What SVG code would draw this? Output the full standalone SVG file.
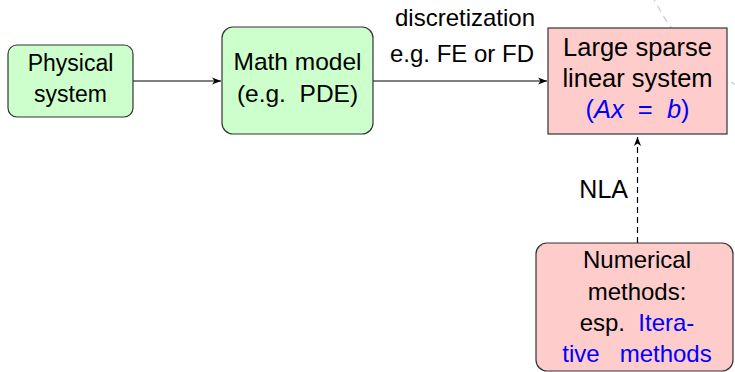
<svg xmlns="http://www.w3.org/2000/svg" width="735" height="372" viewBox="0 0 735 372">
<defs>
<style>
text{font-family:"Liberation Sans",Arial,sans-serif;font-size:24px;fill:#000}
.c{text-anchor:middle}
.b{fill:#0000ff}
.i{font-style:italic}
.green{fill:#ccffcc;stroke:#333;stroke-width:1.2}
.pink{fill:#ffcccc;stroke:#333;stroke-width:1.2}
.conn{stroke:#000;stroke-width:1.2;fill:none}
</style>
<marker id="arr" markerUnits="userSpaceOnUse" viewBox="-10 -5 11 10" refX="0" refY="0" markerWidth="11" markerHeight="10" orient="auto">
<path d="M0,0 L-9,-3.6 L-6.5,0 L-9,3.6 z" fill="#000"/>
</marker>
</defs>
<rect width="735" height="372" fill="#fff"/>
<path d="M652,-5 Q682,58 742,88" fill="none" stroke="#c8c8c8" stroke-width="1.2" stroke-dasharray="7,5"/>
<g id="connectors">
<line class="conn" x1="133" y1="81" x2="221" y2="81" marker-end="url(#arr)"/>
<line class="conn" x1="373" y1="81" x2="547" y2="81" marker-end="url(#arr)"/>
<line class="conn" x1="637.5" y1="243" x2="637.5" y2="137" stroke-dasharray="6,4" marker-end="url(#arr)"/>
<text class="c" x="465" y="26">discretization</text>
<text class="c" x="462" y="62">e.g. FE or FD</text>
<text x="628" y="198" style="text-anchor:end;font-size:25px">NLA</text>
</g>
<g id="physical">
<rect class="green" x="8" y="45" width="125" height="72" rx="9"/>
<text class="c" x="70.5" y="71" style="font-size:23px">Physical</text>
<text class="c" x="70.5" y="102" style="font-size:23px">system</text>
</g>
<g id="math">
<rect class="green" x="222" y="27" width="151" height="107" rx="11"/>
<text class="c" x="297.5" y="70" style="font-size:24.5px">Math model</text>
<text class="c" x="297.5" y="102" style="font-size:24.5px" xml:space="preserve">(e.g.  PDE)</text>
</g>
<g id="linear">
<rect class="pink" x="548" y="28" width="179" height="106"/>
<text class="c" x="637.5" y="56" style="font-size:25.5px">Large sparse</text>
<text class="c" x="637.5" y="87" style="font-size:25.5px">linear system</text>
<text class="c b" x="637.5" y="118" style="font-size:25.5px" xml:space="preserve">(<tspan class="i b">Ax</tspan>  =  <tspan class="i b">b</tspan>)</text>
</g>
<g id="numerical">
<rect class="pink" x="536" y="243" width="197" height="128" rx="11"/>
<text class="c" x="637" y="268">Numerical</text>
<text class="c" x="637" y="300">methods:</text>
<text class="c" x="637" y="331" xml:space="preserve">esp.  <tspan class="b">Itera-</tspan></text>
<text class="c b" x="637" y="362" xml:space="preserve">tive   methods</text>
</g>
</svg>
